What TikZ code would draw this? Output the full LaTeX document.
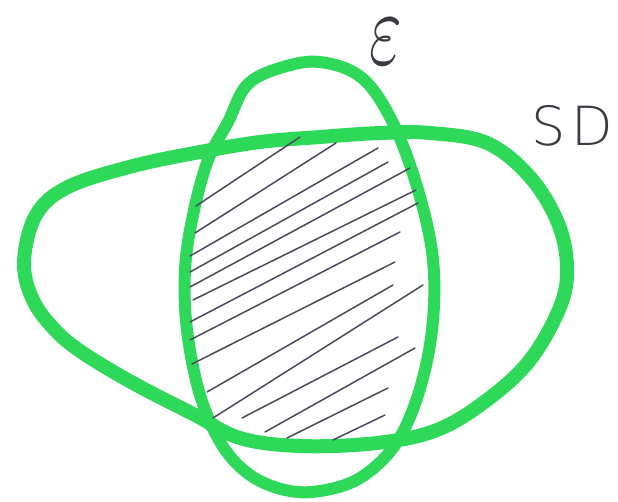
\documentclass[tikz,border=0pt]{standalone}
\usepackage{fontspec}
\newfontfamily\handfont{DejaVu Sans ExtraLight}
\usetikzlibrary{positioning}
\definecolor{setgreen}{RGB}{46,216,88}
\definecolor{hatchink}{RGB}{78,72,92}
\definecolor{lblink}{RGB}{58,58,66}
\tikzset{
  setring/.style={draw=setgreen, line width=#1, line join=round, line cap=round},
  hatchline/.style={draw=hatchink, line width=1.5pt, line cap=round},
  setlbl/.style={font=\handfont, text=lblink, inner sep=0pt},
}

\begin{document}
\begin{tikzpicture}[x=1pt, y=-1pt]
  \useasboundingbox (0,0) rectangle (618,501);

  % SD ring
  \draw[setring=14pt] plot[smooth cycle, tension=0.6] coordinates {
    (24,262) (36,215) (68,187) (133,166) (200,152) (260,142) (320,137)
    (380,133) (430,133) (487,143) (530,177) (558,223) (567,267) (560,307)
    (530,360) (487,400) (437,430) (377,443) (300,446) (240,438) (195,415)
    (133,383) (83,353) (55,330) (33,300)};

  % epsilon ring
  \draw[setring=12pt] plot[smooth cycle, tension=0.6] coordinates {
    (320,62) (362,78) (393,123) (418,190) (433,260) (432,330) (418,395)
    (395,445) (360,478) (320,491) (285,490) (250,475) (222,445) (200,395)
    (187,330) (185,270) (193,215) (208,160) (228,122) (247,85) (280,68)};

  % hatching of the overlap
  \foreach \xa/\ya/\xb/\yb in {196/206/300/137, 195/233/336/143, 190/256/378/148,
      190/272/388/162, 190/287/410/168, 193/300/416/190, 190/322/418/203,
      190/340/400/232, 192/364/395/262, 207/392/393/285, 213/418/423/285,
      242/418/398/337, 265/432/415/348, 287/438/388/388, 333/440/385/415}
    \draw[hatchline] (\xa,\ya) -- (\xb,\yb);

  \node[setlbl] (eps) at (386,42) {\scalebox{7}[10.5]{$\varepsilon$}};
  \node[setlbl] (sd) at (572,126) {\fontsize{54}{54}\selectfont S\kern6pt D};
\end{tikzpicture}
\end{document}
